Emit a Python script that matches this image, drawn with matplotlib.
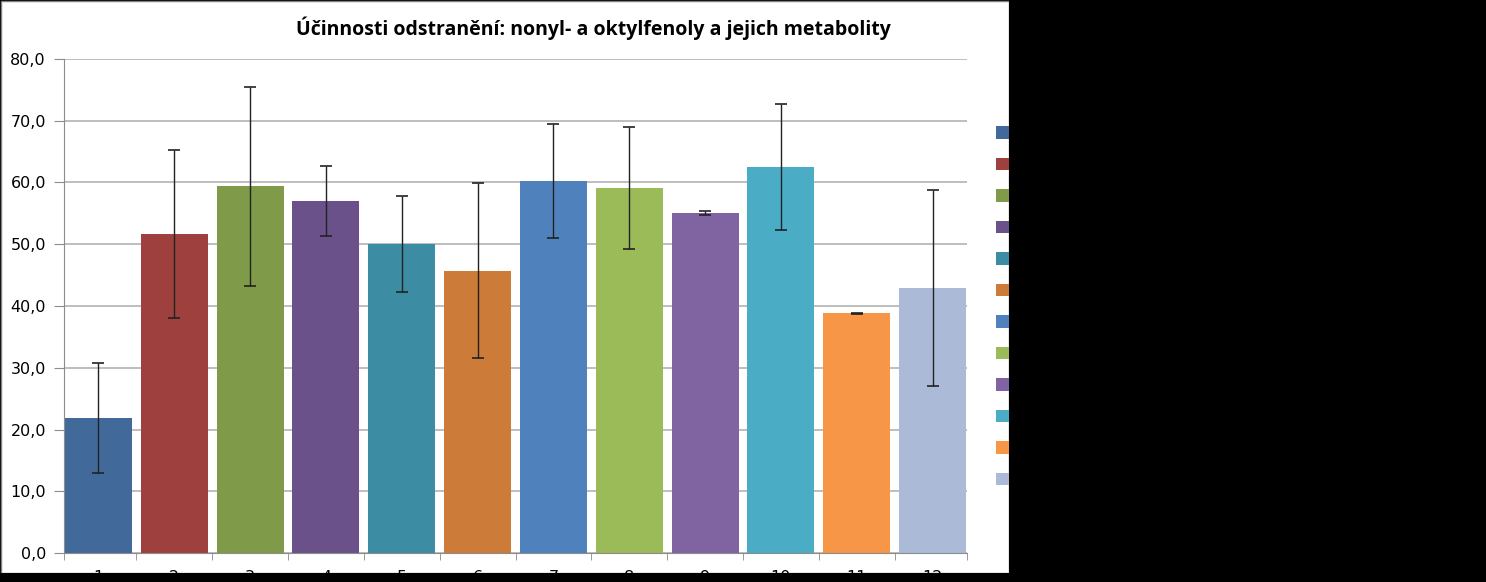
import matplotlib.pyplot as plt
from matplotlib.patches import Rectangle
from matplotlib.ticker import FuncFormatter, MultipleLocator

categories = ["1", "2", "3", "4", "5", "6", "7", "8", "9", "10", "11", "12"]
values = [21.9, 51.7, 59.4, 57.0, 50.0, 45.7, 60.2, 59.1, 55.1, 62.5, 38.8, 42.9]
errors = [8.9, 13.6, 16.1, 5.7, 7.8, 14.2, 9.2, 9.9, 0.3, 10.2, 0.1, 15.9]
colors = ["#416a9b", "#9e413e", "#7f9a48", "#6a5189", "#3c8da3", "#cc7b38",
          "#4f81bd", "#9bbb59", "#8064a2", "#4bacc6", "#f79646", "#aabad7"]
title = "Účinnosti odstranění: nonyl- a oktylfenoly a jejich metabolity"

W, H = 1486, 582
fig = plt.figure(figsize=(W / 100, H / 100), dpi=100, facecolor="black")

# white chart area on black background
fig.patches.append(Rectangle((1 / W, 1 - 573 / H), 1008 / W, 572 / H,
                             transform=fig.transFigure, facecolor="white",
                             edgecolor="#7f7f7f", linewidth=1, zorder=-5))

ax = fig.add_axes([64 / W, 1 - 553 / H, 903 / W, 494 / H])
ax.set_facecolor("white")

n = len(categories)
x = range(n)
bw = 0.884
ax.bar(x, values, width=bw, color=colors, zorder=2)
ax.errorbar(x, values, yerr=errors, fmt="none", ecolor="#222222",
            elinewidth=1, capsize=4.5, capthick=1.2, zorder=3)

edge = bw / 2 + 0.013
ax.set_xlim(-edge, n - 1 + edge)
ax.set_ylim(0, 80)
ax.yaxis.set_major_locator(MultipleLocator(10))
ax.yaxis.set_major_formatter(FuncFormatter(lambda v, p: f"{v:.1f}".replace(".", ",")))
ax.grid(axis="y", color="#b3b3b3", linewidth=1.2, zorder=0)
ax.set_axisbelow(True)

for s in ["top", "right"]:
    ax.spines[s].set_visible(False)
for s in ["left", "bottom"]:
    ax.spines[s].set_color("#8c8c8c")

ax.set_xticks(list(x))
ax.set_xticklabels(categories, fontsize=11.5, family="DejaVu Sans")
ax.tick_params(axis="x", length=0, pad=12)
ax.set_xticks([-edge] + [i + 0.5 for i in range(n - 1)] + [n - 1 + edge], minor=True)
ax.tick_params(axis="x", which="minor", length=5, color="#8c8c8c")
ax.tick_params(axis="y", length=7, color="#8c8c8c", labelsize=11.5, pad=6)

fig.text(593 / W, 1 - 28 / H, title, ha="center", va="center",
         fontsize=14, fontweight="bold", family="Open Sans")

handles = [Rectangle((0, 0), 1, 1, facecolor=c) for c in colors]
fig.legend(handles, categories, loc="upper left",
           bbox_to_anchor=(982 / W, 1 - 112 / H), frameon=False,
           handlelength=0.85, handleheight=0.85, handletextpad=0.6,
           labelspacing=1.08, fontsize=11, labelcolor="black")

# black strips cut off the chart on the right and bottom
fig.patches.append(Rectangle((1009 / W, 0), 1 - 1009 / W, 1,
                             transform=fig.transFigure, facecolor="black",
                             edgecolor="none", zorder=10))
fig.patches.append(Rectangle((0, 0), 1, 9 / H, transform=fig.transFigure,
                             facecolor="black", edgecolor="none", zorder=10))

fig.savefig("out.png", dpi=100, facecolor="black")
